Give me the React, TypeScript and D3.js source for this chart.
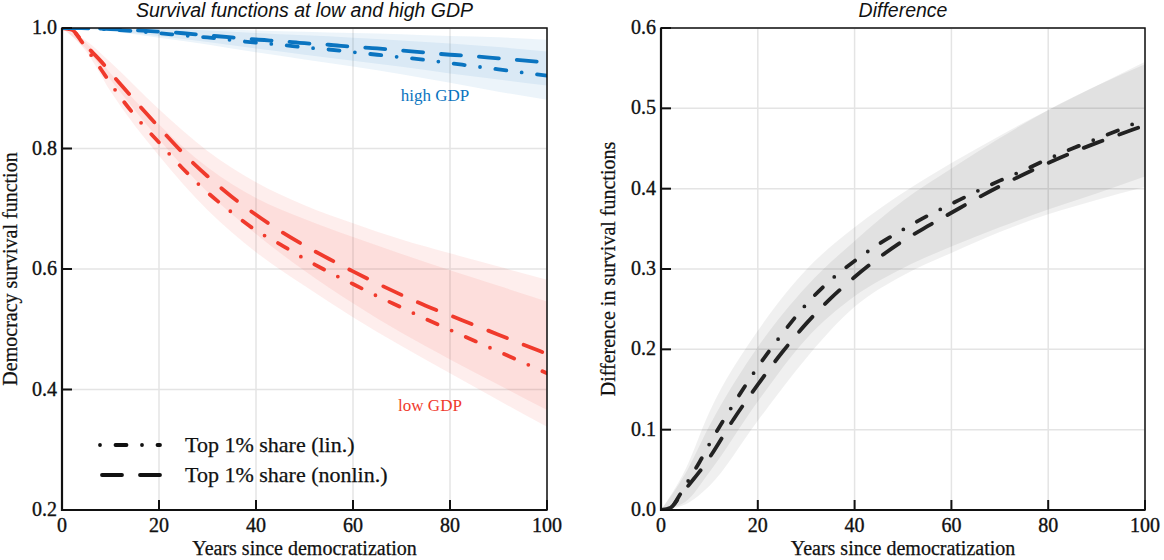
import React from "react";
import * as d3 from "d3";

// ---------- data ----------
const years = [0, 2, 4, 6, 8, 10, 15, 20, 25, 30, 35, 40, 45, 50, 55, 60, 65, 70, 75, 80, 85, 90, 95, 100];

const highNonlin = [1, 1, 0.9998, 0.9996, 0.9991, 0.9983, 0.9965, 0.9939, 0.9913, 0.9878, 0.9843, 0.9809, 0.9782, 0.9748, 0.9722, 0.9687, 0.9661, 0.9626, 0.9591, 0.9556, 0.953, 0.9495, 0.9461, 0.9426];
const highLin = [1, 1, 0.9997, 0.9994, 0.9983, 0.9974, 0.9948, 0.9913, 0.9878, 0.9843, 0.98, 0.9756, 0.9722, 0.9678, 0.9643, 0.96, 0.9556, 0.9513, 0.9469, 0.9417, 0.9365, 0.9313, 0.926, 0.9208];
const lowNonlin = [1, 0.997, 0.98, 0.962, 0.945, 0.926, 0.88, 0.835, 0.792, 0.754, 0.72, 0.69, 0.663, 0.639, 0.617, 0.596, 0.576, 0.557, 0.539, 0.523, 0.507, 0.491, 0.475, 0.459];
const lowLin = [1, 0.997, 0.978, 0.955, 0.932, 0.908, 0.855, 0.81, 0.766, 0.727, 0.694, 0.664, 0.641, 0.617, 0.595, 0.575, 0.555, 0.536, 0.517, 0.499, 0.481, 0.463, 0.445, 0.427];
const diffLin = [0, 0.003, 0.02, 0.04, 0.06, 0.082, 0.132, 0.178, 0.219, 0.256, 0.286, 0.31, 0.331, 0.349, 0.366, 0.381, 0.396, 0.41, 0.423, 0.437, 0.45, 0.462, 0.474, 0.487];
const diffNonlin = [0, 0.003, 0.018, 0.033, 0.048, 0.065, 0.113, 0.156, 0.196, 0.232, 0.263, 0.29, 0.314, 0.335, 0.353, 0.37, 0.387, 0.403, 0.418, 0.432, 0.445, 0.457, 0.468, 0.479];

// confidence bands
const bandYears = [0, 5, 10, 20, 30, 40, 50, 60, 70, 80, 90, 100];
const highNonlinUp = [1, 1, 1, 1, 0.999, 0.9959, 0.9938, 0.9917, 0.9896, 0.9866, 0.9845, 0.9806];
const highNonlinLo = [1, 0.9986, 0.9953, 0.9869, 0.9768, 0.9659, 0.9558, 0.9457, 0.9356, 0.9246, 0.9145, 0.9046];
const highLinUp = [1, 1, 1, 0.999, 0.9958, 0.9916, 0.9878, 0.984, 0.9793, 0.9742, 0.9683, 0.9608];
const highLinLo = [1, 0.9984, 0.9944, 0.9838, 0.9728, 0.9596, 0.9478, 0.936, 0.9233, 0.9092, 0.8943, 0.8808];
const lowNonlinUp = [1, 0.979, 0.943, 0.865, 0.796, 0.744, 0.706, 0.676, 0.649, 0.626, 0.604, 0.582];
const lowNonlinLo = [1, 0.965, 0.914, 0.815, 0.728, 0.658, 0.597, 0.543, 0.494, 0.45, 0.408, 0.366];
const lowLinUp = [1, 0.975, 0.925, 0.84, 0.769, 0.718, 0.683, 0.653, 0.625, 0.598, 0.572, 0.546];
const lowLinLo = [1, 0.961, 0.895, 0.788, 0.698, 0.628, 0.572, 0.52, 0.472, 0.427, 0.382, 0.338];
const diffLinUp = [0, 0.05, 0.122, 0.223, 0.299, 0.352, 0.395, 0.432, 0.466, 0.498, 0.528, 0.558];
const diffLinLo = [0, 0.01, 0.047, 0.135, 0.213, 0.266, 0.301, 0.328, 0.352, 0.374, 0.394, 0.415];
const diffNonlinUp = [0, 0.045, 0.105, 0.203, 0.278, 0.335, 0.385, 0.425, 0.463, 0.498, 0.528, 0.555];
const diffNonlinLo = [0, 0.007, 0.03, 0.111, 0.189, 0.253, 0.292, 0.32, 0.346, 0.368, 0.386, 0.402];

const xTicks = [0, 20, 40, 60, 80, 100];
const leftYTicks = [0.2, 0.4, 0.6, 0.8, 1.0];
const rightYTicks = [0, 0.1, 0.2, 0.3, 0.4, 0.5, 0.6];

const legendLabels = ["Top 1% share (lin.)", "Top 1% share (nonlin.)"];

// ---------- styles ----------
const BLUE = "#0a74c0";
const RED = "#f03a2c";
const DARK = "#222222";
const INK = "#111111";
const SERIF = "'Liberation Serif', 'Times New Roman', serif";
const SANS = "'Liberation Sans', Arial, sans-serif";
const LIN_DASH = "0 15.5 11 15.5";
const NONLIN_DASH = "20 18";
const LW = 3.8;
const TXT_STROKE = 0.35;

type Scales = { x: d3.ScaleLinear<number, number>; y: d3.ScaleLinear<number, number> };

function Panel(props: {
  left: number;
  right: number;
  top: number;
  bottom: number;
  yDomain: [number, number];
  yTicks: number[];
  title: string;
  ylabel: string;
  ylabelX: number;
  children: (s: Scales) => React.ReactNode;
}) {
  const { left, right, top, bottom, yDomain, yTicks, title, ylabel, ylabelX } = props;
  const x = d3.scaleLinear().domain([0, 100]).range([left, right]);
  const y = d3.scaleLinear().domain(yDomain).range([bottom, top]);
  const fmt = d3.format(".1f");
  const cx = (left + right) / 2;
  const cy = (top + bottom) / 2;
  const clipId = `clip-${left}`;
  return (
    <g>
      <defs>
        <clipPath id={clipId}>
          <rect x={left} y={top} width={right - left} height={bottom - top} />
        </clipPath>
      </defs>
      {/* grid */}
      {xTicks.map((t) => (
        <line key={"gx" + t} x1={x(t)} x2={x(t)} y1={top} y2={bottom} stroke="#e4e4e4" strokeWidth={1.5} />
      ))}
      {yTicks.map((t) => (
        <line key={"gy" + t} x1={left} x2={right} y1={y(t)} y2={y(t)} stroke="#e4e4e4" strokeWidth={1.5} />
      ))}
      <g clipPath={`url(#${clipId})`}>{props.children({ x, y })}</g>
      {/* frame */}
      <rect x={left} y={top} width={right - left} height={bottom - top} fill="none" stroke={INK} strokeWidth={1.5} />
      <line x1={left} x2={left} y1={top} y2={bottom + 1} stroke={INK} strokeWidth={2.2} />
      <line x1={left - 1} x2={right} y1={bottom} y2={bottom} stroke={INK} strokeWidth={2.2} />
      {/* ticks */}
      {xTicks.map((t) => (
        <g key={"tx" + t}>
          <line x1={x(t)} x2={x(t)} y1={bottom} y2={bottom - 10} stroke={INK} strokeWidth={2} />
          <text x={x(t)} y={532} textAnchor="middle" fontFamily={SERIF} fontSize={20} fill={INK} stroke={INK} strokeWidth={TXT_STROKE}>
            {t}
          </text>
        </g>
      ))}
      {yTicks.map((t) => (
        <g key={"ty" + t}>
          <line x1={left} x2={left + 10} y1={y(t)} y2={y(t)} stroke={INK} strokeWidth={2} />
          <text x={left - 5} y={y(t) + 6} textAnchor="end" fontFamily={SERIF} fontSize={20} fill={INK} stroke={INK} strokeWidth={TXT_STROKE}>
            {fmt(t)}
          </text>
        </g>
      ))}
      {/* labels */}
      <text x={cx} y={555} textAnchor="middle" fontFamily={SERIF} fontSize={20} fill={INK} stroke={INK} strokeWidth={0.25}>
        Years since democratization
      </text>
      <text
        transform={`translate(${ylabelX},${cy}) rotate(-90)`}
        textAnchor="middle"
        fontFamily={SERIF}
        fontSize={20}
        fill={INK}
        stroke={INK}
        strokeWidth={0.25}
      >
        {ylabel}
      </text>
      <text x={cx} y={17} textAnchor="middle" fontFamily={SANS} fontStyle="italic" fontSize={19.5} fill={INK}>
        {title}
      </text>
    </g>
  );
}

function Band(props: { s: Scales; up: number[]; lo: number[]; fill: string; opacity: number }) {
  const { s, up, lo } = props;
  const area = d3
    .area<number>()
    .x((_, i) => s.x(bandYears[i]))
    .y0((_, i) => s.y(lo[i]))
    .y1((_, i) => s.y(up[i]))
    .curve(d3.curveMonotoneX);
  return <path d={area(up) || ""} fill={props.fill} fillOpacity={props.opacity} stroke="none" />;
}

function Curve(props: { s: Scales; values: number[]; color: string; dash: string }) {
  const { s, values } = props;
  const line = d3
    .line<number>()
    .x((_, i) => s.x(years[i]))
    .y((v) => s.y(v))
    .curve(d3.curveMonotoneX);
  return (
    <path
      d={line(values) || ""}
      fill="none"
      stroke={props.color}
      strokeWidth={LW}
      strokeDasharray={props.dash}
      strokeLinecap="round"
    />
  );
}

export default function App() {
  React.useEffect(() => {
    document.body.style.margin = "0";
  }, []);
  return (
    <svg
      width={1164}
      height={560}
      viewBox="0 0 1164 560"
      style={{ position: "absolute", left: 0, top: 0, display: "block", background: "#fff" }}
    >
      <rect x={0} y={0} width={1164} height={560} fill="#fff" />
      <Panel
        left={62}
        right={547}
        top={28}
        bottom={510}
        yDomain={[0.2, 1.0]}
        yTicks={leftYTicks}
        title="Survival functions at low and high GDP"
        ylabel="Democracy survival function"
        ylabelX={17}
      >
        {(s) => (
          <g>
            <Band s={s} up={lowNonlinUp} lo={lowNonlinLo} fill={RED} opacity={0.085} />
            <Band s={s} up={lowLinUp} lo={lowLinLo} fill={RED} opacity={0.085} />
            <Band s={s} up={highNonlinUp} lo={highNonlinLo} fill={BLUE} opacity={0.08} />
            <Band s={s} up={highLinUp} lo={highLinLo} fill={BLUE} opacity={0.08} />
            <Curve s={s} values={lowLin} color={RED} dash={LIN_DASH} />
            <Curve s={s} values={lowNonlin} color={RED} dash={NONLIN_DASH} />
            <Curve s={s} values={highLin} color={BLUE} dash={LIN_DASH} />
            <Curve s={s} values={highNonlin} color={BLUE} dash={NONLIN_DASH} />
          </g>
        )}
      </Panel>
      <text x={435} y={101} textAnchor="middle" fontFamily={SERIF} fontSize={17} fill={BLUE}>
        high GDP
      </text>
      <text x={430} y={411} textAnchor="middle" fontFamily={SERIF} fontSize={17} fill={RED}>
        low GDP
      </text>
      {/* legend */}
      <line x1={100} x2={160} y1={445} y2={445} stroke={INK} strokeWidth={LW} strokeDasharray={LIN_DASH} strokeLinecap="round" />
      <line x1={102} x2={162} y1={475} y2={475} stroke={INK} strokeWidth={LW} strokeDasharray={NONLIN_DASH} strokeLinecap="round" />
      <text x={185} y={452} fontFamily={SERIF} fontSize={22} fill={INK} stroke={INK} strokeWidth={0.25}>
        {legendLabels[0]}
      </text>
      <text x={185} y={482} fontFamily={SERIF} fontSize={22} fill={INK} stroke={INK} strokeWidth={0.25}>
        {legendLabels[1]}
      </text>

      <Panel
        left={661}
        right={1145}
        top={28}
        bottom={510}
        yDomain={[0, 0.6]}
        yTicks={rightYTicks}
        title="Difference"
        ylabel="Difference in survival functions"
        ylabelX={615}
      >
        {(s) => (
          <g>
            <Band s={s} up={diffNonlinUp} lo={diffNonlinLo} fill="#000" opacity={0.06} />
            <Band s={s} up={diffLinUp} lo={diffLinLo} fill="#000" opacity={0.06} />
            <Curve s={s} values={diffLin} color={DARK} dash={LIN_DASH} />
            <Curve s={s} values={diffNonlin} color={DARK} dash={NONLIN_DASH} />
          </g>
        )}
      </Panel>
    </svg>
  );
}
